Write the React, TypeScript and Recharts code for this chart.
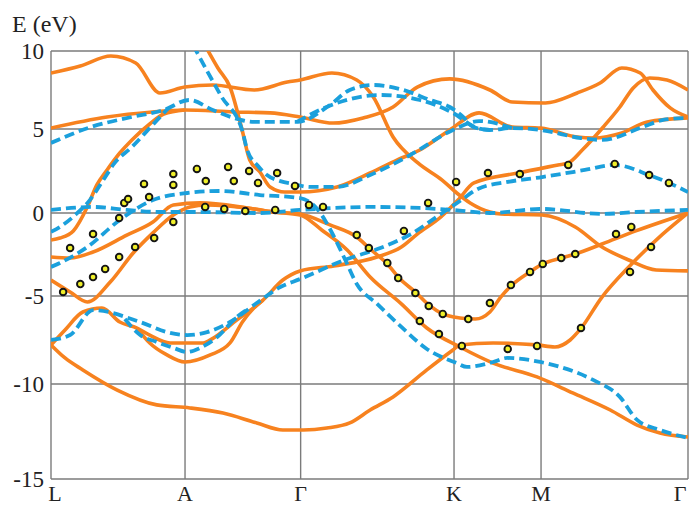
import React from "react";
import { ComposedChart, Line, Scatter, XAxis, YAxis, CartesianGrid } from "recharts";

// High-symmetry path (x runs 0..100 along L-A-Γ-K-M-Γ)
const kTicks = [0, 21.04, 39.19, 63.27, 76.93, 100];
const kLabels = ["L", "A", "Γ", "K", "M", "Γ"];
const eTicks = [-15, -10, -5, 0, 5, 10];

// Orange (solid) bands: [k, E]
const orange1 = [[0,8.59],[4.6,9.04],[9.4,9.68],[13.3,9.23],[17.1,7.31],[21.0,7.69],[25.4,7.82],[31.9,7.5],[37.1,8.01],[39.1,8.14],[44.1,8.59],[48.0,8.14],[50.6,7.05],[53.7,4.52],[57.6,2.98],[61.4,1.96],[63.7,1.19],[65.8,0.6],[68.9,0.06],[70.6,-0.06],[77.1,-0.12],[82.3,-0.84],[86.5,-2.05],[90.7,-2.83],[95.0,-3.43],[100,-3.49]];
const orange2 = [[0,5.06],[8.8,5.77],[15.9,6.09],[21.0,6.22],[28.7,6.09],[34.4,6.03],[39.1,5.77],[44.3,5.38],[49.0,5.71],[53.7,6.41],[57.5,7.69],[62.6,8.21],[68.9,7.5],[72.4,6.73],[77.6,6.67],[82.6,7.31],[86.2,7.95],[89.6,8.91],[92.5,8.59],[94.5,7.5],[97.2,6.35],[100,5.77]];
const orange3 = [[24.4,10.2],[26.2,8.91],[28.1,7.69],[30.0,4.94],[31.2,3.15],[32.8,2.44],[34.4,1.55],[36.7,1.25],[39.1,1.25],[44.9,1.55],[50.1,2.38],[54.3,3.15],[57.9,3.75],[62.6,4.94],[67.2,6.03],[72.4,5.13],[76.9,5.06],[82.6,4.52],[85.2,4.46],[89.6,4.76],[93.6,5.45],[100,5.71]];
const orange4 = [[0,-7.78],[2.2,-6.93],[5.0,-5.91],[8.0,-5.68],[10.8,-6.48],[13.5,-6.82],[15.5,-7.22],[18.7,-7.67],[23.9,-7.67],[25.0,-7.5],[29.2,-6.36],[33.3,-5.23],[36.4,-4.04],[39.1,-3.49],[44.4,-3.19],[51.2,-2.65],[55.0,-2.05],[57.5,-1.27],[61.2,-0.24],[63.9,0.77],[66.4,1.79],[73.3,2.38],[79.6,2.86],[81.2,2.98],[83.4,3.75],[86.7,5.13],[89.3,6.41],[91.4,7.63],[94.0,8.27],[96.7,8.14],[100,7.5]];
const orange5 = [[13.5,-6.82],[15.5,-7.67],[18.2,-8.35],[21.0,-8.75],[25.0,-8.35],[28.1,-7.67],[30.1,-6.45],[31.8,-5.7],[33.3,-5.23]];
const orange6 = [[0,-7.78],[2.2,-8.52],[5.0,-9.2],[10.4,-10.32],[16.6,-11.1],[21.8,-11.26],[27.0,-11.53],[32.3,-12.05],[36.4,-12.42],[39.6,-12.42],[43.3,-12.32],[46.9,-12.05],[50.1,-11.37],[53.7,-10.68],[59.0,-9.2],[63.1,-8.07],[64.2,-7.78],[69.4,-7.67],[76.3,-7.78],[79.1,-7.9],[81.5,-7.5],[83.0,-6.93],[86.5,-5.06],[90.7,-3.25],[95.0,-1.63],[100,0]];
const orange7 = [[0,-2.65],[3.0,-2.71],[6.6,-2.35],[11.9,-1.33],[16.0,-0.54],[19.2,0.48],[23.4,0.6],[30.8,0.3],[34.9,0.06],[39.1,-0.06],[43.8,-0.72],[48.0,-1.45],[50.1,-2.17],[52.8,-3.07],[54.8,-3.98],[57.2,-4.76],[59.3,-5.51],[61.5,-6.02],[64.2,-6.25],[66.6,-6.31],[68.9,-5.91],[70.6,-5.06],[72.2,-4.4],[75.2,-3.55],[77.2,-3.07],[80.1,-2.71],[82.3,-2.47],[86.5,-1.87],[91.8,-1.08],[100,0]];
const orange8 = [[0,-4.04],[3.0,-4.76],[5.7,-5.34],[9.3,-4.16],[12.9,-2.41],[16.0,-1.2],[19.2,-0.12],[21.8,0.36],[24.5,0.48],[30.8,0.3],[34.9,0.06],[39.1,-0.12],[42.5,-1.02],[46.5,-2.23],[50.1,-3.86],[55.0,-5.45],[59.0,-6.82],[64.2,-7.9],[69.4,-8.81],[76.3,-9.6],[81.9,-10.47],[87.8,-11.37],[92.0,-12.16],[95.6,-12.58],[100,-12.79]];
const orange9 = [[0,-1.63],[1.4,-1.51],[3.5,-1.08],[5.7,0.36],[7.2,1.67],[8.8,2.56],[10.8,3.57],[12.7,4.35],[15.5,5.32],[17.7,5.96],[21.0,6.22]];

// Blue (dashed) bands: [k, E]
const blue1 = [[0,4.17],[6.3,5.13],[12.7,5.77],[17.7,6.22],[21.7,6.86],[25.4,6.22],[28.7,5.71],[31.9,5.45],[38.6,5.45],[43.8,6.54],[46.9,7.5],[50.6,7.82],[55.3,7.5],[59.5,6.86],[62.6,6.41],[64.7,5.77],[66.3,5.13],[68.9,4.94],[72.4,5.06],[76.9,4.94],[83.2,4.46],[86.5,4.35],[92.9,5.13],[96.1,5.58],[100,5.71]];
const blue2 = [[38.6,5.45],[42.2,6.22],[44.9,6.67],[51.7,7.18],[57.9,6.86],[63.1,6.03],[66.9,5.06],[68.9,4.94]];
const blue3 = [[22.3,10.38],[24.6,8.65],[26.8,7.05],[30.0,4.94],[30.8,3.75],[32.5,2.8],[33.9,2.26],[36.0,1.9],[38.0,1.73],[40.7,1.55],[44.9,1.55],[50.1,2.26],[56.4,3.45],[63.1,4.94],[67.2,5.51],[72.4,5.06]];
const blue4 = [[0,-3.25],[1.4,-3.01],[5.7,-2.05],[10.8,-0.42],[16.0,0.77],[21.4,1.19],[26.5,1.31],[32.8,1.07],[39.1,0.89],[41.8,0.24],[44.3,-1.33],[46.2,-2.83],[48.0,-4.28],[51.2,-5.45],[55.0,-6.76],[59.0,-8.01],[63.7,-8.81],[65.3,-9.03],[69.4,-8.75],[71.6,-8.52],[76.8,-8.75],[79.9,-9.03],[85.1,-9.77],[89.3,-10.68],[92.0,-11.89],[95.6,-12.42],[100,-12.84]];
const blue5 = [[0,0.18],[6.6,0.36],[11.9,0.18],[17.1,0.06],[22.3,0.06],[32.8,0],[39.1,0.18],[50.1,0.36],[57.9,0.3],[63.1,0.18],[68.9,0],[77.1,0.24],[86.5,-0.06],[91.8,0.06],[100,0.18]];
const blue6 = [[0,-1.14],[1.4,-0.84],[3.8,-0.12],[6.1,0.77],[8.2,1.96],[10.0,2.98],[12.7,3.93],[15.5,5.06],[18.4,6.33]];
const blue7 = [[0,-7.5],[3.0,-7.22],[6.6,-5.8],[14.0,-6.48],[18.2,-7.05],[21.4,-7.22],[24.5,-7.05],[28.1,-6.48],[32.3,-5.4],[36.0,-4.46],[39.1,-3.98],[46.5,-2.77],[51.7,-2.11],[56.5,-1.27],[61.2,-0.06],[64.4,0.77],[67.0,1.43],[71.7,1.85],[77.1,2.14],[83.8,2.56],[88.5,2.86],[93.9,2.26],[97.0,1.79],[100,1.25]];
const blue8 = [[11.6,-6.31],[14.0,-7.22],[16.6,-7.61],[19.2,-7.95],[21.4,-8.18],[23.4,-7.95],[26.1,-7.33],[29.2,-6.19],[31.2,-5.68]];

// Experimental points: [k, E]
const measured = [[1.9,-4.76],[3.0,-2.11],[4.6,-4.28],[6.6,-1.27],[6.6,-3.86],[8.5,-3.37],[10.7,-0.3],[10.7,-2.65],[11.5,0.6],[12.1,0.83],[13.2,-2.05],[14.6,1.73],[15.4,0.95],[16.2,-1.51],[19.2,2.32],[19.2,1.67],[19.2,-0.54],[22.9,2.62],[24.3,1.9],[24.2,0.36],[27.2,0.24],[27.8,2.74],[28.7,1.9],[30.5,0.12],[31.1,2.5],[32.5,1.79],[35.2,0.18],[35.5,2.38],[38.3,1.61],[40.5,0.48],[42.7,0.36],[48.0,-1.33],[49.9,-2.11],[52.8,-3.01],[54.5,-3.92],[55.4,-1.08],[57.2,-4.82],[57.9,-6.42],[59.3,-5.57],[59.2,0.6],[60.9,-7.16],[61.5,-6.02],[63.6,1.85],[64.5,-7.84],[65.5,-6.31],[68.6,2.38],[68.9,-5.4],[71.7,-8.01],[72.2,-4.34],[73.6,2.32],[75.2,-3.55],[76.3,-7.84],[77.2,-3.07],[80.1,-2.71],[81.2,2.86],[82.3,-2.47],[83.2,-6.82],[88.5,2.92],[88.7,-1.27],[90.9,-3.55],[91.1,-0.84],[93.9,2.26],[94.2,-2.05],[97.0,1.79]];

const orangeBands = [orange1, orange2, orange3, orange4, orange5, orange6, orange7, orange8, orange9];
const blueBands = [blue1, blue2, blue3, blue4, blue5, blue6, blue7, blue8];

const toRows = (pts: number[][]) => pts.map(([k, e]) => ({ k, e }));

// Energy axis of the original figure is not evenly spaced: relative position of each grid value
const KNOT_V = [-15, -10, -5, 0, 5, 10];
const KNOT_U = [0, 0.222, 0.4276, 0.6215, 0.8178, 1];

function knotU(v: number): number {
  const n = KNOT_V.length;
  let i = 0;
  if (v <= KNOT_V[0]) i = 0;
  else if (v >= KNOT_V[n - 1]) i = n - 2;
  else {
    while (v > KNOT_V[i + 1]) i++;
  }
  const t = (v - KNOT_V[i]) / (KNOT_V[i + 1] - KNOT_V[i]);
  return KNOT_U[i] + t * (KNOT_U[i + 1] - KNOT_U[i]);
}
function uToV(u: number): number {
  const n = KNOT_U.length;
  let i = 0;
  if (u <= KNOT_U[0]) i = 0;
  else if (u >= KNOT_U[n - 1]) i = n - 2;
  else {
    while (u > KNOT_U[i + 1]) i++;
  }
  const t = (u - KNOT_U[i]) / (KNOT_U[i + 1] - KNOT_U[i]);
  return KNOT_V[i] + t * (KNOT_V[i + 1] - KNOT_V[i]);
}

function makeEnergyScale(d0: number[] = [-15, 10], r0: number[] = [1, 0]): any {
  let domain = d0.slice();
  let range = r0.slice();
  const scale: any = (v: number) => {
    const u0 = knotU(domain[0]);
    const u1 = knotU(domain[domain.length - 1]);
    const a = range[0];
    const b = range[range.length - 1];
    return a + ((knotU(Number(v)) - u0) / (u1 - u0)) * (b - a);
  };
  scale.domain = (d?: any) => {
    if (d === undefined) return domain.slice();
    domain = Array.from(d, Number);
    return scale;
  };
  scale.range = (r?: any) => {
    if (r === undefined) return range.slice();
    range = Array.from(r, Number);
    return scale;
  };
  scale.copy = () => makeEnergyScale(domain, range);
  scale.ticks = () => KNOT_V.slice();
  scale.tickFormat = () => (v: number) => String(v);
  scale.nice = () => scale;
  scale.clamp = () => scale;
  scale.invert = (p: number) => {
    const u0 = knotU(domain[0]);
    const u1 = knotU(domain[domain.length - 1]);
    const a = range[0];
    const b = range[range.length - 1];
    return uToV(u0 + ((p - a) / (b - a)) * (u1 - u0));
  };
  return scale;
}

const energyScale = makeEnergyScale();

const ORANGE = "#F7821F";
const BLUE = "#1BA0DC";
const FONT = "Liberation Serif, Times New Roman, serif";

const Dot = (props: any) => {
  const { cx, cy } = props;
  if (cx == null || cy == null) return null;
  return <circle cx={cx} cy={cy} r={3.3} fill="#EFEF2A" stroke="#151515" strokeWidth={1.9} />;
};

const PathTick = (props: any) => {
  const { x, y, payload } = props;
  const idx = kTicks.indexOf(payload.value);
  const label = kLabels[idx] ?? "";
  const shift = idx === kTicks.length - 1 ? -8 : idx === 0 ? 4 : 0;
  return (
    <text
      x={x + shift}
      y={y}
      dy="0.71em"
      textAnchor="middle"
      fontFamily={FONT}
      fontSize={22}
      fill="#222"
    >
      {label}
    </text>
  );
};

export default function App() {
  return (
    <div style={{ position: "absolute", left: 0, top: 0, width: 689, height: 509, background: "#fff" }}>
      <div
        style={{
          position: "absolute",
          left: 12,
          top: 12,
          fontFamily: FONT,
          fontSize: 24,
          lineHeight: "24px",
          color: "#222",
          whiteSpace: "nowrap",
        }}
      >
        E (eV)
      </div>
      <ComposedChart width={689} height={509} margin={{ top: 51, right: 1, bottom: 0, left: 0 }}>
        <CartesianGrid stroke="#7b7b7b" strokeWidth={1.4} />
        <XAxis
          type="number"
          dataKey="k"
          domain={[0, 100]}
          ticks={kTicks}
          interval={0}
          allowDataOverflow
          height={30}
          axisLine={false}
          tickLine={false}
          tickSize={0}
          tickMargin={6}
          tick={<PathTick />}
        />
        <YAxis
          type="number"
          dataKey="e"
          domain={[-15, 10]}
          ticks={eTicks}
          interval={0}
          scale={energyScale}
          allowDataOverflow
          width={51}
          axisLine={false}
          tickLine={false}
          tickSize={0}
          tickMargin={7}
          tick={{ fontSize: 23, fill: "#222", fontFamily: FONT }}
        />
        {orangeBands.map((b, i) => (
          <Line
            key={"o" + i}
            data={toRows(b)}
            dataKey="e"
            type="monotone"
            stroke={ORANGE}
            strokeWidth={3.6}
            dot={false}
            activeDot={false}
            isAnimationActive={false}
          />
        ))}
        {blueBands.map((b, i) => (
          <Line
            key={"b" + i}
            data={toRows(b)}
            dataKey="e"
            type="monotone"
            stroke={BLUE}
            strokeWidth={3.8}
            strokeDasharray="10 5"
            dot={false}
            activeDot={false}
            isAnimationActive={false}
          />
        ))}
        <Scatter data={toRows(measured)} dataKey="e" shape={Dot} isAnimationActive={false} />
      </ComposedChart>
    </div>
  );
}
